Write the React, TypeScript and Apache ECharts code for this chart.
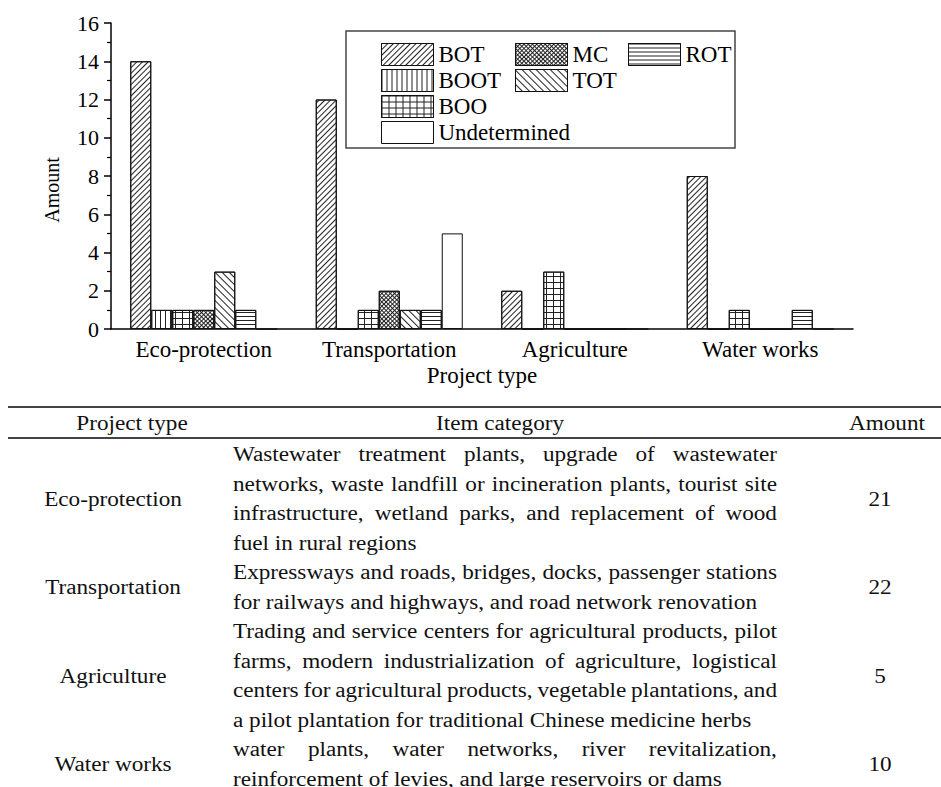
import React, { useEffect, useRef } from "react";
import * as echarts from "echarts";

// ---------- data ----------
const categories = ["Eco-protection", "Transportation", "Agriculture", "Water works"];
const seriesNames = ["BOT", "BOOT", "BOO", "MC", "TOT", "ROT", "Undetermined"];
const botValues = [14, 12, 2, 8];
const bootValues = [1, 0, 0, 0];
const booValues = [1, 1, 3, 1];
const mcValues = [1, 2, 0, 0];
const totValues = [3, 1, 0, 0];
const rotValues = [1, 1, 0, 1];
const undeterminedValues = [0, 5, 0, 0];
const yMin = 0;
const yMax = 16;
const yInterval = 2;

const legendColumns = [
  ["BOT", "BOOT", "BOO", "Undetermined"],
  ["MC", "TOT"],
  ["ROT"],
];

const tableHeaders = ["Project type", "Item category", "Amount"];
const tableAmounts = ["21", "22", "5", "10"];
const tableItemLines = [
  [
    "Wastewater treatment plants, upgrade of wastewater",
    "networks, waste landfill or incineration plants, tourist site",
    "infrastructure, wetland parks, and replacement of wood",
    "fuel in rural regions",
  ],
  [
    "Expressways and roads, bridges, docks, passenger stations",
    "for railways and highways, and road network renovation",
  ],
  [
    "Trading and service centers for agricultural products, pilot",
    "farms, modern industrialization of agriculture, logistical",
    "centers for agricultural products, vegetable plantations, and",
    "a pilot plantation for traditional Chinese medicine herbs",
  ],
  [
    "water plants, water networks, river revitalization,",
    "reinforcement of levies, and large reservoirs or dams",
  ],
];

const seriesValues = [botValues, bootValues, booValues, mcValues, totValues, rotValues, undeterminedValues];

// ---------- styles ----------
const FONT = "Liberation Serif";
const LINE = "#222";

const decals: Record<string, any> = {
  BOT: { symbol: "rect", symbolSize: 1, symbolKeepAspect: false, color: LINE, dashArrayX: [1, 0], dashArrayY: [1, 2.6], rotation: -Math.PI / 4 },
  BOOT: { symbol: "rect", symbolSize: 1, symbolKeepAspect: false, color: LINE, dashArrayX: [1, 3.2], dashArrayY: [1, 0] },
  BOO: { symbol: "rect", symbolSize: 1, symbolKeepAspect: false, color: LINE, dashArrayX: [[1, 0], [1, 6]], dashArrayY: [1, 0, 5, 0] },
  MC: { symbol: "rect", symbolSize: 1, symbolKeepAspect: false, color: LINE, dashArrayX: [[1, 0], [1, 2]], dashArrayY: [1, 0, 2, 0], rotation: Math.PI / 4 },
  TOT: { symbol: "rect", symbolSize: 1, symbolKeepAspect: false, color: LINE, dashArrayX: [1, 0], dashArrayY: [1, 3.4], rotation: Math.PI / 4 },
  ROT: { symbol: "rect", symbolSize: 1, symbolKeepAspect: false, color: LINE, dashArrayX: [1, 0], dashArrayY: [1, 3] },
};

function measure(text: string, size: number): number {
  const c = document.createElement("canvas");
  const ctx = c.getContext("2d") as CanvasRenderingContext2D;
  ctx.font = `${size}px "${FONT}"`;
  return ctx.measureText(text).width;
}

function buildTable(): any[] {
  const els: any[] = [];
  const TS = 20; // table font size
  const SX = 1.16; // horizontal stretch
  const color = "#111";
  const left = 233;
  const width = 544;
  const firstY = 455;
  const step = 29.5;

  const txt = (text: string, x: number, y: number, align: string) => ({
    type: "text",
    x,
    y,
    scaleX: SX,
    style: {
      text,
      fontFamily: FONT,
      fontSize: TS,
      fill: color,
      textAlign: align,
      textVerticalAlign: "middle",
      align,
      verticalAlign: "middle",
    },
  });

  // rules
  els.push({ type: "line", shape: { x1: 8, y1: 407, x2: 941, y2: 407 }, style: { stroke: "#444", lineWidth: 2 } });
  els.push({ type: "line", shape: { x1: 8, y1: 438, x2: 941, y2: 438 }, style: { stroke: "#444", lineWidth: 2 } });

  // headers
  els.push(txt(tableHeaders[0], 132, 424, "center"));
  els.push(txt(tableHeaders[1], 500, 424, "center"));
  els.push(txt(tableHeaders[2], 887, 424, "center"));

  let idx = 0;
  tableItemLines.forEach((lines, r) => {
    const startIdx = idx;
    lines.forEach((line, li) => {
      const y = firstY + idx * step;
      const justify = li < lines.length - 1;
      if (!justify) {
        els.push(txt(line, left, y, "left"));
      } else {
        const words = line.split(" ");
        const ws = words.map((w) => measure(w, TS) * SX);
        const total = ws.reduce((a, b) => a + b, 0);
        const gap = (width - total) / (words.length - 1);
        let x = left;
        words.forEach((w, wi) => {
          els.push(txt(w, x, y, "left"));
          x += ws[wi] + gap;
        });
      }
      idx++;
    });
    const cy = firstY + ((startIdx + idx - 1) / 2) * step;
    els.push(txt(categories[r], 113, cy, "center"));
    els.push(txt(tableAmounts[r], 880, cy, "center"));
  });
  return els;
}

export default function App() {
  const ref = useRef<HTMLDivElement>(null);

  useEffect(() => {
    if (!ref.current) return;
    const chart = echarts.init(ref.current, undefined, { renderer: "svg" });

    const axisLineStyle = { color: "#000", width: 1.5 };
    const labelStyle = { fontFamily: FONT, fontSize: 23, color: "#000" };

    const legendCommon = {
      orient: "vertical",
      icon: "rect",
      itemWidth: 52,
      itemHeight: 22,
      itemGap: 3,
      padding: 0,
      selectedMode: false,
      itemStyle: { borderWidth: 1, borderColor: "#111" },
      textStyle: { fontFamily: FONT, fontSize: 23, color: "#000", lineHeight: 22 },
      z: 10,
    };
    const legendLefts = [381, 515, 628];

    const option: any = {
      animation: false,
      backgroundColor: "#fff",
      textStyle: { fontFamily: FONT },
      grid: { left: 111, top: 23, width: 742, height: 306 },
      legend: legendColumns.map((data, i) => ({ ...legendCommon, data, left: legendLefts[i], top: 43 })),
      xAxis: [
        {
          type: "category",
          data: categories,
          axisLine: { lineStyle: axisLineStyle },
          axisTick: { length: 4, lineStyle: axisLineStyle },
          axisLabel: { ...labelStyle, margin: 9 },
          name: "Project type",
          nameLocation: "middle",
          nameGap: 35,
          nameTextStyle: { fontFamily: FONT, fontSize: 23, color: "#000" },
        },
        {
          type: "category",
          data: categories,
          position: "bottom",
          axisLine: { show: false },
          axisTick: { alignWithLabel: true, length: 7, lineStyle: axisLineStyle },
          axisLabel: { show: false },
        },
      ],
      yAxis: {
        type: "value",
        min: yMin,
        max: yMax,
        interval: yInterval,
        axisLine: { show: true, lineStyle: axisLineStyle },
        axisTick: { show: true, length: 7, lineStyle: axisLineStyle },
        minorTick: { show: true, splitNumber: 2, length: 4, lineStyle: { color: "#000", width: 1.2 } },
        axisLabel: { ...labelStyle, fontSize: 22, margin: 12 },
        splitLine: { show: false },
      },
      series: seriesNames.map((name, i) => ({
        type: "bar",
        name,
        data: seriesValues[i],
        xAxisIndex: 0,
        barWidth: 21,
        barGap: "0%",
        itemStyle: {
          color: "#fff",
          borderColor: "#111",
          borderWidth: 1,
          decal: decals[name] || undefined,
        },
        emphasis: { disabled: true },
      })),
      graphic: [
        {
          type: "rect",
          shape: { x: 346, y: 31, width: 389, height: 117 },
          style: { fill: "#fff", stroke: "#444", lineWidth: 1.5 },
          z: 5,
        },
        {
          type: "text",
          x: 52,
          y: 190,
          rotation: Math.PI / 2,
          style: {
            text: "Amount",
            fontFamily: FONT,
            fontSize: 20,
            fill: "#000",
            textAlign: "center",
            textVerticalAlign: "middle",
            align: "center",
            verticalAlign: "middle",
          },
        },
        ...buildTable(),
      ],
    };

    chart.setOption(option);
    return () => chart.dispose();
  }, []);

  return (
    <div
      ref={ref}
      style={{ position: "fixed", left: 0, top: 0, width: 941, height: 787, background: "#fff" }}
    />
  );
}
